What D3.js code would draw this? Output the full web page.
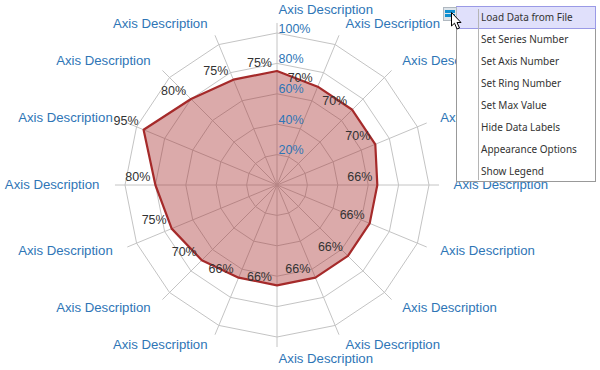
<!DOCTYPE html>
<html><head><meta charset="utf-8">
<script src="https://cdn.jsdelivr.net/npm/d3@7"></script>
<style>html,body{margin:0;padding:0;background:#fff}svg{display:block}</style>
</head><body><svg id="c" width="600" height="370"></svg>
<script>
const axisLabels = Array(16).fill("Axis Description");
const seriesValues = [75,70,70,70,66,66,66,66,66,66,70,75,80,95,80,75];
const ringValues = [20,40,60,80,100];
const ringLabels = ["20%","40%","60%","80%","100%"];
const menuItems = ["Load Data from File","Set Series Number","Set Axis Number","Set Ring Number","Set Max Value","Hide Data Labels","Appearance Options","Show Legend"];

const svg = d3.select("#c");
const cx = 277, cy = 185;
const r = d3.scaleLinear().domain([0,100]).range([0,152]);
const angle = d3.scalePoint().domain(d3.range(16)).range([0, 2*Math.PI*15/16]);
const px = (i,v)=> cx + r(v)*Math.sin(angle(i));
const py = (i,v)=> cy - r(v)*Math.cos(angle(i));
const font = "'Liberation Sans',Arial,sans-serif";
const idx = d3.range(16);
const line = d3.lineRadial().angle(d=>angle(d.i)).radius(d=>r(d.v)).curve(d3.curveLinearClosed);
const plot = svg.append("g").attr("transform",`translate(${cx},${cy})`);

// rings
plot.selectAll(".ring").data(ringValues).join("path")
  .attr("d",v=>line(idx.map(i=>({i,v}))))
  .attr("fill","none").attr("stroke","#c4c4c4").attr("stroke-width",1);
// spokes
plot.selectAll(".spoke").data(idx).join("line")
  .attr("x1",0).attr("y1",0)
  .attr("x2",i=>px(i,106.6)-cx).attr("y2",i=>py(i,106.6)-cy)
  .attr("stroke","#c4c4c4").attr("stroke-width",1);
// ring labels
svg.selectAll(".rl").data(ringValues).join("text")
  .attr("x",cx+1.5).attr("y",v=>cy-r(v)-0.5)
  .text((v,i)=>ringLabels[i])
  .attr("font-family",font).attr("font-size",12.5).attr("fill","#2e75b6");
// axis labels
svg.selectAll(".al").data(idx).join("text")
  .attr("x",i=>px(i,115.2)+(i<=8?1.5:-2.5))
  .attr("y",i=>py(i,114.5)+3.5)
  .attr("text-anchor",i=>i<=8?"start":"end")
  .text(i=>axisLabels[i])
  .attr("font-family",font).attr("font-size",13.2).attr("fill","#2e75b6");
// series
plot.append("path").attr("d",line(seriesValues.map((v,i)=>({i,v}))))
  .attr("fill","#a52a2a").attr("fill-opacity",0.4)
  .attr("stroke","#a52a2a").attr("stroke-width",2.2).attr("stroke-linejoin","round");
// data labels
svg.selectAll(".dl").data(seriesValues).join("text")
  .attr("x",(v,i)=>px(i,v)-5).attr("y",(v,i)=>py(i,v)-4.5)
  .attr("text-anchor","end")
  .text(v=>v+"%")
  .attr("font-family",font).attr("font-size",12.5).attr("fill","#333");

// menu
const m = svg.append("g");
m.append("rect").attr("x",456.5).attr("y",6.5).attr("width",139).attr("height",175)
  .attr("fill","#fff").attr("stroke","#999");
m.append("rect").attr("x",456.5).attr("y",6.5).attr("width",139).attr("height",22)
  .attr("fill","#e0e0fb").attr("stroke","#9a9ae6");
m.append("line").attr("x1",478.5).attr("x2",478.5).attr("y1",9).attr("y2",180).attr("stroke","#b5b5b5");
const rowY = d3.scaleBand().domain(d3.range(menuItems.length)).range([6,182]);
m.selectAll(".mi").data(menuItems).join("text")
  .attr("x",481).attr("y",(d,i)=>rowY(i)+rowY.bandwidth()/2+4)
  .text(d=>d).attr("font-family","'Noto Sans','DejaVu Sans',sans-serif").attr("font-size",10).attr("fill","#333");
// button
m.append("rect").attr("x",443.5).attr("y",7.5).attr("width",13).attr("height",13).attr("fill","#dce4ea").attr("stroke","#b0b8c0");
m.append("rect").attr("x",445).attr("y",10).attr("width",10).attr("height",3).attr("fill","#0f8fd0");
m.append("rect").attr("x",445).attr("y",14).attr("width",10).attr("height",3).attr("fill","#0f8fd0");
// cursor
m.append("path").attr("d","M451.5 12.5 L451.5 26 L454.5 23.2 L457 29 L459.5 28 L457 22.5 L461 22.5 Z")
  .attr("fill","#fff").attr("stroke","#000").attr("stroke-width",1);
</script></body></html>
